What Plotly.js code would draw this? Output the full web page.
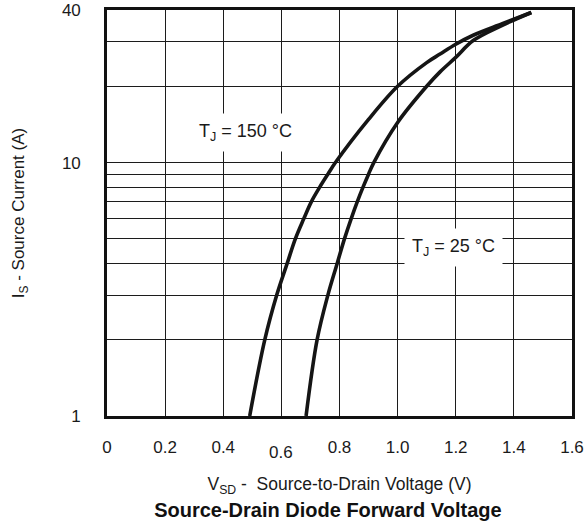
<!DOCTYPE html>
<html>
<head>
<meta charset="utf-8">
<script src="https://cdn.plot.ly/plotly-3.0.1.min.js"></script>
<style>html,body{margin:0;padding:0;background:#fff;}</style>
</head>
<body>
<div id="chart" style="width:585px;height:527px;"></div>
<script>
// Data
var vsd150 = [0.491, 0.543, 0.584, 0.62, 0.648, 0.677, 0.703, 0.732, 0.760, 0.786, 0.9, 1.0, 1.1, 1.146, 1.2, 1.26, 1.36, 1.46];
var is150  = [1, 2, 3, 4, 5, 6, 7, 8, 9, 10, 14.8, 20, 24.8, 26.8, 29.3, 31.8, 35.3, 39.1];
var vsd25  = [0.685, 0.723, 0.760, 0.792, 0.817, 0.840, 0.861, 0.881, 0.900, 0.918, 1.0, 1.1, 1.146, 1.2, 1.26, 1.36, 1.46];
var is25   = [1, 2, 3, 4, 5, 6, 7, 8, 9, 10, 14.4, 20, 22.8, 26, 30.3, 34.8, 39.1];
var xTickVals = [0, 0.2, 0.4, 0.6, 0.8, 1.0, 1.2, 1.4, 1.6];
var xTickText = ['0', '0.2', '0.4', '', '0.8', '1.0', '1.2', '1.4', '1.6'];
var yTickVals = [1, 2, 3, 4, 5, 6, 7, 8, 9, 10, 20, 30, 40];
var yTickText = ['1', '', '', '', '', '', '', '', '', '10', '', '', '40'];
var label150 = 'T<sub>J</sub> = 150 °C';
var label25 = 'T<sub>J</sub> = 25 °C';

var FONT = 'Liberation Sans, Arial, Helvetica, sans-serif';
var lineStyle = {color: '#151515', width: 3.6, shape: 'spline', smoothing: 1};

var traces = [
  {x: vsd150, y: is150, mode: 'lines', line: lineStyle, name: '150 °C', hoverinfo: 'x+y'},
  {x: vsd25, y: is25, mode: 'lines', line: lineStyle, name: '25 °C', hoverinfo: 'x+y'}
];

var layout = {
  width: 585, height: 527,
  margin: {l: 107, r: 13, t: 10, b: 111},
  paper_bgcolor: '#fff', plot_bgcolor: '#fff',
  showlegend: false,
  font: {family: FONT, size: 17, color: '#1a1a1a'},
  title: {
    text: '<b>Source-Drain Diode Forward Voltage</b>',
    font: {family: FONT, size: 20, color: '#111'},
    x: 0.475, xref: 'paper', xanchor: 'center',
    y: 1 - 510/527, yref: 'container', yanchor: 'middle'
  },
  xaxis: {
    range: [0, 1.6],
    tickvals: xTickVals, ticktext: xTickText,
    showgrid: true, gridcolor: '#1c1c1c', gridwidth: 1,
    showline: true, linecolor: '#111', linewidth: 2.8, mirror: true,
    zeroline: false, ticks: '', ticklabelstandoff: 14,
    tickfont: {size: 17},
    title: {text: 'V<sub>SD</sub> -  Source-to-Drain Voltage (V)', font: {size: 17.5}, standoff: 22},
    fixedrange: true
  },
  yaxis: {
    type: 'log',
    range: [0, Math.log10(40)],
    tickvals: yTickVals, ticktext: yTickText,
    showgrid: true, gridcolor: '#1c1c1c', gridwidth: 1,
    showline: true, linecolor: '#111', linewidth: 2.8, mirror: true,
    zeroline: false, ticks: '', ticklabelstandoff: 20,
    tickfont: {size: 17},
    title: {text: 'I<sub>S</sub> - Source Current (A)', font: {size: 17}, standoff: 33},
    fixedrange: true
  },
  annotations: [
    {x: 0.475, y: Math.log10(13.2), xref: 'x', yref: 'y', text: label150, showarrow: false,
     bgcolor: '#fff', borderpad: 7, font: {size: 18, color: '#1a1a1a'}},
    {x: 1.192, y: Math.log10(4.63), xref: 'x', yref: 'y', text: label25, showarrow: false,
     bgcolor: '#fff', borderpad: 7, font: {size: 18, color: '#1a1a1a'}},
    {x: 0.6, y: 0, xref: 'x', yref: 'paper', yanchor: 'top', yshift: -25, text: '0.6', showarrow: false,
     font: {size: 17, color: '#1a1a1a'}}
  ]
};

Plotly.newPlot('chart', traces, layout, {displayModeBar: false, staticPlot: true});
</script>
</body>
</html>
